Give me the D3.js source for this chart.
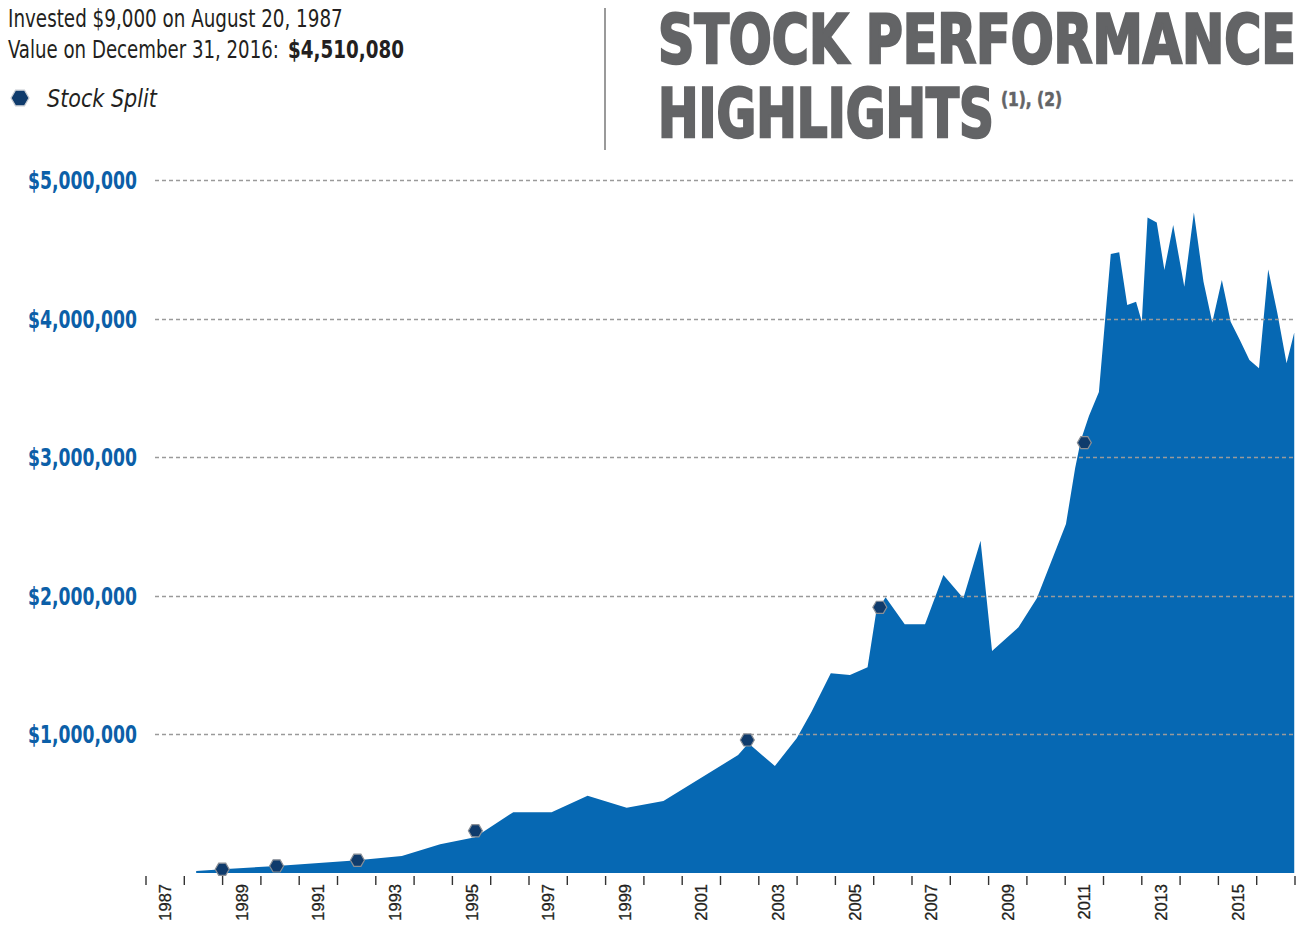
<!DOCTYPE html>
<html>
<head>
<meta charset="utf-8">
<script src="https://cdn.jsdelivr.net/npm/d3@7"></script>
<style>
  html, body { margin: 0; padding: 0; background: #fff; }
  svg { display: block; }
</style>
</head>
<body>
<svg id="chart" width="1312" height="928"></svg>
<script>
// ---- data ----
const dates = [1988.31, 1988.99, 1990.41, 1992.52, 1993.68, 1994.68, 1995.59, 1996.59, 1997.59, 1998.53,
  1999.55, 2000.51, 2002.46, 2002.73, 2003.42, 2003.99, 2004.38, 2004.88, 2005.38, 2005.84,
  2006.06, 2006.31, 2006.81, 2007.34, 2007.82, 2008.34, 2008.79, 2009.09, 2009.78, 2010.26,
  2011.02, 2011.26, 2011.41, 2011.62, 2011.88, 2012.19, 2012.41, 2012.62, 2012.85, 2013.00,
  2013.15, 2013.39, 2013.59, 2013.82, 2014.11, 2014.36, 2014.61, 2014.84, 2015.09, 2015.32,
  2015.56, 2015.81, 2016.06, 2016.30, 2016.54, 2016.78, 2016.98];
const values = [14000, 27000, 51000, 92000, 123000, 208000, 258000, 439000, 439000, 558000,
  471000, 520000, 851000, 936000, 772000, 972000, 1165000, 1441000, 1429000, 1484000,
  1874000, 1989000, 1794000, 1794000, 2150000, 1982000, 2398000, 1602000, 1773000, 1982000,
  2518000, 2922000, 3124000, 3297000, 3470000, 4466000, 4478000, 4098000, 4122000, 3978000,
  4729000, 4693000, 4351000, 4675000, 4230000, 4765000, 4267000, 3971000, 4278000, 3978000,
  3846000, 3701000, 3641000, 4355000, 4038000, 3677000, 3899000];
const splitDates = [1988.99, 1990.41, 1992.52, 1995.60, 2002.70, 2006.16, 2011.50];
const splitValues = [27000, 51000, 92000, 305000, 960000, 1917000, 3105000];
const yTicks = [1000000, 2000000, 3000000, 4000000, 5000000];
const yearTicks = d3.range(1987, 2018);
const yearLabels = [1987, 1989, 1991, 1993, 1995, 1997, 1999, 2001, 2003, 2005, 2007, 2009, 2011, 2013, 2015];

// ---- layout ----
const svg = d3.select("#chart");
const narrow = "'Liberation Sans Narrow', 'DejaVu Sans Condensed', 'Roboto', sans-serif";
const x = d3.scaleLinear().domain([1987, 2017]).range([146, 1295]);
const y = d3.scaleLinear().domain([0, 5000000]).range([873, 180]);
const areaColor = "#0668b3";
const navy = "#0f3b6c";

// squeeze a text horizontally so its real width equals `width`
function fit(sel, x0, y0, width, anchor) {
  const w = sel.node().getComputedTextLength();
  const sx = width / w;
  const left = anchor === "end" ? x0 - width : x0;
  sel.attr("x", 0).attr("y", 0).attr("text-anchor", "start")
    .attr("transform", `translate(${left},${y0}) scale(${sx},1)`);
  return sel;
}

const pts = dates.map((d, i) => ({ d, v: values[i] }));

// area
svg.append("path")
  .datum(pts)
  .attr("fill", areaColor)
  .attr("d", d3.area().x(p => x(p.d)).y0(y(0)).y1(p => y(p.v)));

// gridlines (drawn over the area)
svg.append("g").selectAll("line").data(yTicks).join("line")
  .attr("x1", 155).attr("x2", 1295)
  .attr("y1", d => Math.round(y(d)) + 0.5).attr("y2", d => Math.round(y(d)) + 0.5)
  .attr("stroke", "#9a9a9a").attr("stroke-width", 1.5)
  .attr("stroke-dasharray", "4,3");

// y labels
svg.append("g").selectAll("text").data(yTicks).join("text")
  .attr("font-family", narrow).attr("font-weight", "bold")
  .attr("font-size", 24).attr("fill", "#0c5fa8")
  .text(d => d3.format("$,")(d))
  .each(function (d) { fit(d3.select(this), 137, y(d) + 9, 109, "end"); });

// x ticks
svg.append("g").selectAll("line").data(yearTicks).join("line")
  .attr("x1", d => x(d)).attr("x2", d => x(d))
  .attr("y1", 876).attr("y2", 885)
  .attr("stroke", "#333").attr("stroke-width", 1.4);

// x labels (rotated)
svg.append("g").selectAll("text").data(yearLabels).join("text")
  .attr("transform", d => `translate(${x(d + 0.5)},884) rotate(-90)`)
  .attr("text-anchor", "end").attr("dy", "0.36em")
  .attr("font-family", "'Liberation Sans', Arial, sans-serif")
  .attr("font-size", 16.5).attr("fill", "#231f20")
  .attr("stroke", "#231f20").attr("stroke-width", 0.3)
  .text(d => d);

// split markers
function hex(cx, cy, r) {
  return d3.range(6).map(i => {
    const a = Math.PI / 3 * i;
    return [cx + r * Math.cos(a), cy + r * Math.sin(a)];
  });
}
svg.append("g").selectAll("polygon").data(splitDates).join("polygon")
  .attr("points", (d, i) => hex(x(d), y(splitValues[i]), 7).map(p => p.join(",")).join(" "))
  .attr("fill", navy).attr("stroke", "#8a8f96").attr("stroke-width", 1.2);

// header text
const hdr = svg.append("g").attr("font-family", narrow).attr("fill", "#231f20");
fit(hdr.append("text").attr("font-size", 24).text("Invested $9,000 on August 20, 1987"), 8, 27, 335);
fit(hdr.append("text").attr("font-size", 24).text("Value on December 31, 2016:"), 8, 58, 271);
fit(hdr.append("text").attr("font-size", 24).attr("font-weight", "bold").text("$4,510,080"), 288, 58, 116);

// legend
svg.append("polygon")
  .attr("points", hex(20, 98, 9).map(p => p.join(",")).join(" "))
  .attr("fill", navy).attr("stroke", "#c8ccd2").attr("stroke-width", 1.2);
fit(hdr.append("text").attr("font-size", 24).attr("font-style", "italic").text("Stock Split"), 47, 107, 110);

// separator
svg.append("line").attr("x1", 605).attr("x2", 605).attr("y1", 8).attr("y2", 150)
  .attr("stroke", "#9a9a9a").attr("stroke-width", 2);

// title
const ttl = svg.append("g").attr("font-family", narrow).attr("font-weight", "bold")
  .attr("fill", "#636466").attr("stroke", "#636466").attr("stroke-width", 2.4);
fit(ttl.append("text").attr("font-size", 67).text("STOCK PERFORMANCE"), 658, 63, 638);
fit(ttl.append("text").attr("font-size", 67).text("HIGHLIGHTS"), 658, 137, 336);
fit(ttl.append("text").attr("font-size", 20).attr("stroke-width", 0.6).text("(1), (2)"), 1001, 106, 61);
</script>
</body>
</html>
